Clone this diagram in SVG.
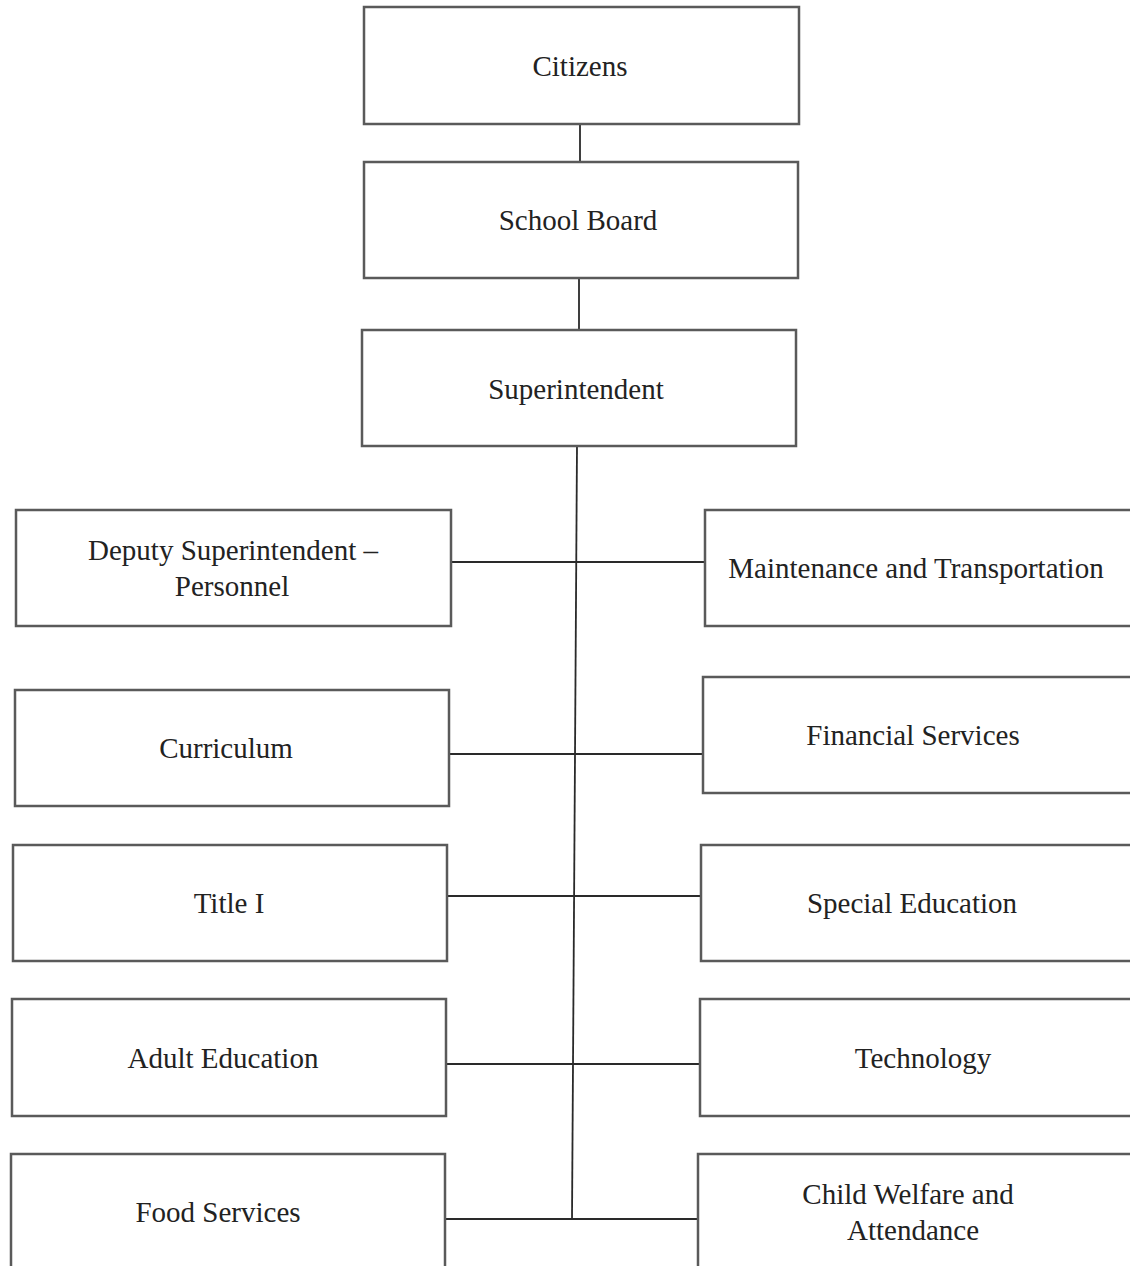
<svg xmlns="http://www.w3.org/2000/svg" width="1130" height="1266" viewBox="0 0 1130 1266">
<style>
.box{fill:#ffffff;stroke:#5a5a5a;stroke-width:2.5}
.lbl{font-family:"Liberation Serif","Times New Roman",serif;font-size:29px;fill:#222;text-anchor:middle}
.con{stroke:#2a2a2a;stroke-width:1.8;fill:none}
</style>
<rect width="1130" height="1266" fill="#ffffff"/>
<g id="connectors">
<line class="con" x1="580" y1="124" x2="580" y2="162"/>
<line class="con" x1="579" y1="278" x2="579" y2="330"/>
<line class="con" x1="577" y1="446" x2="572" y2="1220"/>
<line class="con" x1="451" y1="562" x2="705" y2="562"/>
<line class="con" x1="449" y1="754" x2="703" y2="754"/>
<line class="con" x1="447" y1="896" x2="701" y2="896"/>
<line class="con" x1="446" y1="1064" x2="700" y2="1064"/>
<line class="con" x1="445" y1="1219" x2="698" y2="1219"/>
</g>
<g id="citizens"><rect class="box" x="364" y="7" width="435" height="117"/><text class="lbl" x="580" y="76">Citizens</text></g>
<g id="school-board"><rect class="box" x="364" y="162" width="434" height="116"/><text class="lbl" x="578" y="230">School Board</text></g>
<g id="superintendent"><rect class="box" x="362" y="330" width="434" height="116"/><text class="lbl" x="576" y="399">Superintendent</text></g>
<g id="deputy"><rect class="box" x="16" y="510" width="435" height="116"/><text class="lbl" x="233" y="560">Deputy Superintendent  –</text><text class="lbl" x="232" y="596">Personnel</text></g>
<g id="curriculum"><rect class="box" x="15" y="690" width="434" height="116"/><text class="lbl" x="226" y="758">Curriculum</text></g>
<g id="title-i"><rect class="box" x="13" y="845" width="434" height="116"/><text class="lbl" x="229" y="913">Title I</text></g>
<g id="adult-education"><rect class="box" x="12" y="999" width="434" height="117"/><text class="lbl" x="223" y="1068">Adult Education</text></g>
<g id="food-services"><rect class="box" x="11" y="1154" width="434" height="130"/><text class="lbl" x="218" y="1222">Food Services</text></g>
<g id="maintenance"><rect class="box" x="705" y="510" width="440" height="116"/><text class="lbl" x="916" y="578">Maintenance and Transportation</text></g>
<g id="financial"><rect class="box" x="703" y="677" width="440" height="116"/><text class="lbl" x="913" y="745">Financial Services</text></g>
<g id="special-education"><rect class="box" x="701" y="845" width="440" height="116"/><text class="lbl" x="912" y="913">Special Education</text></g>
<g id="technology"><rect class="box" x="700" y="999" width="440" height="117"/><text class="lbl" x="923" y="1068">Technology</text></g>
<g id="child-welfare"><rect class="box" x="698" y="1154" width="440" height="130"/><text class="lbl" x="908" y="1204">Child Welfare and</text><text class="lbl" x="913" y="1240">Attendance</text></g>
</svg>
